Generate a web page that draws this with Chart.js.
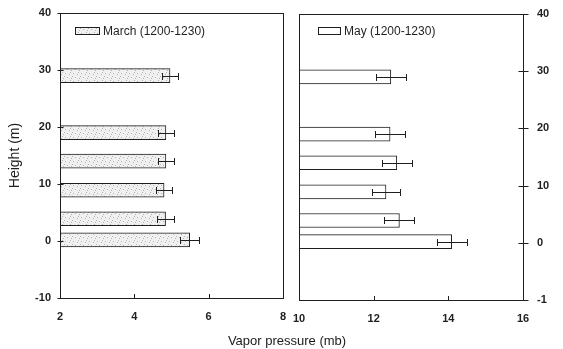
<!DOCTYPE html>
<html>
<head>
<meta charset="utf-8">
<script src="https://cdn.jsdelivr.net/npm/chart.js@4.4.0/dist/chart.umd.min.js"></script>
<style>
  body { margin: 0; background: #fff; }
  #wrap { position: relative; width: 563px; height: 349px; overflow: hidden; }
  #marchChart { position: absolute; left: 0; top: 0; }
  #mayChart { position: absolute; left: 290px; top: 0; }
  #xTitle {
    position: absolute; left: 0; top: 333px; width: 574px;
    text-align: center; color: #1a1a1a;
    font: 13px "Liberation Sans", Arial, sans-serif;
  }
</style>
</head>
<body>
<div id="wrap">
  <canvas id="marchChart" width="290" height="349"></canvas>
  <canvas id="mayChart" width="273" height="349"></canvas>
  <div id="xTitle">Vapor pressure (mb)</div>
</div>
<script>
// Heights (m) of the measurement levels
const heights = [0.2, 3.9, 8.9, 14, 19, 29];

// Vapor pressure (mb) and its error, March 1200-1230
const marchVapor = [5.49, 4.84, 4.80, 4.85, 4.85, 4.96];
const marchErr = [0.25, 0.22, 0.21, 0.22, 0.22, 0.22];

// Vapor pressure (mb) and its error, May 1200-1230
const mayVapor = [14.09, 12.69, 12.33, 12.62, 12.44, 12.46];
const mayErr = [0.40, 0.40, 0.38, 0.40, 0.40, 0.40];

// Axis ticks
const heightTicks = [-10, 0, 10, 20, 30, 40];
const rightHeightLabels = ['-1', '0', '10', '20', '30', '40'];
const marchTicks = [2, 4, 6, 8];
const mayTicks = [10, 12, 14, 16];

const INK = '#1f1f1f';
const FONT = '"Liberation Sans", Arial, sans-serif';

// Speckled grey fill used for the March bars
function stipple() {
  const c = document.createElement('canvas');
  c.width = 8; c.height = 8;
  const g = c.getContext('2d');
  g.fillStyle = '#f0f0f0';
  g.fillRect(0, 0, 8, 8);
  g.fillStyle = '#b4b4b4';
  [[1, 1], [5, 2], [3, 5], [7, 6], [0, 4], [6, 0]].forEach(([x, y]) => g.fillRect(x, y, 1, 1));
  return g.createPattern(c, 'repeat');
}

// Error bars, frame, tick marks and the inset legend
const panelDecor = {
  id: 'panelDecor',
  afterDatasetsDraw(chart, args, opts) {
    const { ctx, scales: { x, y } } = chart;
    ctx.save();
    ctx.strokeStyle = INK;
    ctx.lineWidth = 1;
    opts.values.forEach((v, i) => {
      const py = Math.round(y.getPixelForValue(heights[i])) + 0.5;
      const x0 = Math.round(x.getPixelForValue(v - opts.errors[i])) + 0.5;
      const x1 = Math.round(x.getPixelForValue(v + opts.errors[i])) + 0.5;
      ctx.beginPath();
      ctx.moveTo(x0, py); ctx.lineTo(x1, py);
      ctx.moveTo(x0, py - 3.5); ctx.lineTo(x0, py + 3.5);
      ctx.moveTo(x1, py - 3.5); ctx.lineTo(x1, py + 3.5);
      ctx.stroke();
    });
    ctx.restore();
  },
  afterDraw(chart, args, opts) {
    const { ctx, chartArea: a, scales: { x, y } } = chart;
    ctx.save();
    ctx.strokeStyle = INK;
    ctx.lineWidth = 1;
    ctx.strokeRect(Math.round(a.left) + 0.5, Math.round(a.top) + 0.5,
      Math.round(a.right - a.left), Math.round(a.bottom - a.top));

    // y tick marks cross the axis on the labelled side
    const edge = opts.side === 'left' ? Math.round(a.left) + 0.5 : Math.round(a.right) + 0.5;
    ctx.beginPath();
    y.ticks.forEach(t => {
      const py = Math.round(y.getPixelForValue(t.value)) + 0.5;
      ctx.moveTo(edge - opts.tickLen, py);
      ctx.lineTo(edge + opts.tickLen, py);
    });
    // x tick marks point up into the plot
    x.ticks.forEach(t => {
      const px = Math.round(x.getPixelForValue(t.value)) + 0.5;
      ctx.moveTo(px, a.bottom);
      ctx.lineTo(px, a.bottom - 4);
    });
    ctx.stroke();

    // legend swatch and label
    const L = opts.legend;
    ctx.fillStyle = opts.fill;
    ctx.fillRect(L.x, L.y, L.w, L.h);
    ctx.strokeRect(L.x + 0.5, L.y + 0.5, L.w, L.h);
    ctx.fillStyle = INK;
    ctx.font = '12px ' + FONT;
    ctx.textBaseline = 'middle';
    ctx.fillText(L.text, L.x + L.w + 4, L.y + L.h / 2 + 1);
    ctx.restore();
  }
};

function makePanel(canvasId, cfg) {
  const fill = cfg.fill;
  return new Chart(document.getElementById(canvasId), {
    type: 'bar',
    data: {
      datasets: [{
        label: cfg.legend.text,
        data: heights.map((h, i) => ({ x: cfg.values[i], y: h })),
        backgroundColor: fill,
        borderColor: INK,
        borderWidth: 1,
        barThickness: 14
      }]
    },
    options: {
      indexAxis: 'y',
      responsive: false,
      animation: false,
      layout: { padding: cfg.padding },
      plugins: {
        legend: { display: false },
        tooltip: { enabled: false },
        panelDecor: {
          values: cfg.values,
          errors: cfg.errors,
          side: cfg.side,
          tickLen: cfg.tickLen,
          fill: fill,
          legend: cfg.legend
        }
      },
      scales: {
        x: {
          type: 'linear',
          min: cfg.xTicks[0],
          max: cfg.xTicks[cfg.xTicks.length - 1],
          grid: { display: false, drawTicks: false },
          border: { display: false },
          afterBuildTicks: s => { s.ticks = cfg.xTicks.map(v => ({ value: v })); },
          afterFit: s => {
            s.height = cfg.xHeight;
            s.paddingLeft = 0;
            s.paddingRight = 0;
          },
          ticks: { padding: 12, color: INK, font: { family: FONT, size: 11, weight: 'bold' } }
        },
        y: {
          type: 'linear',
          position: cfg.side,
          min: -10,
          max: 40,
          offset: false,
          grid: { display: false, drawTicks: false, offset: false },
          border: { display: false },
          afterBuildTicks: s => { s.ticks = heightTicks.map(v => ({ value: v })); },
          afterFit: s => {
            s.width = cfg.yWidth;
            s.paddingTop = 0;
            s.paddingBottom = 0;
          },
          title: cfg.yTitle,
          ticks: {
            padding: cfg.side === 'left' ? 9 : 14,
            color: INK,
            font: { family: FONT, size: 11, weight: 'bold' },
            callback: cfg.yLabel
          }
        }
      }
    },
    plugins: [panelDecor]
  });
}

makePanel('marchChart', {
  values: marchVapor,
  errors: marchErr,
  fill: stipple(),
  side: 'left',
  tickLen: 3,
  xTicks: marchTicks,
  xHeight: 51,
  yWidth: 60,
  padding: { top: 13, right: 7, left: 0, bottom: 0 },
  yTitle: {
    display: true, text: 'Height (m)', color: INK,
    padding: { top: 7, bottom: 0 },
    font: { family: FONT, size: 14 }
  },
  yLabel: v => String(v),
  legend: { x: 75, y: 27, w: 24, h: 7, text: 'March (1200-1230)' }
});

makePanel('mayChart', {
  values: mayVapor,
  errors: mayErr,
  fill: '#ffffff',
  side: 'right',
  tickLen: 5,
  xTicks: mayTicks,
  xHeight: 49,
  yWidth: 40,
  padding: { top: 14, right: 0, left: 9, bottom: 0 },
  yTitle: { display: false },
  yLabel: v => rightHeightLabels[heightTicks.indexOf(v)],
  legend: { x: 28, y: 27, w: 22, h: 7, text: 'May (1200-1230)' }
});
</script>
</body>
</html>
